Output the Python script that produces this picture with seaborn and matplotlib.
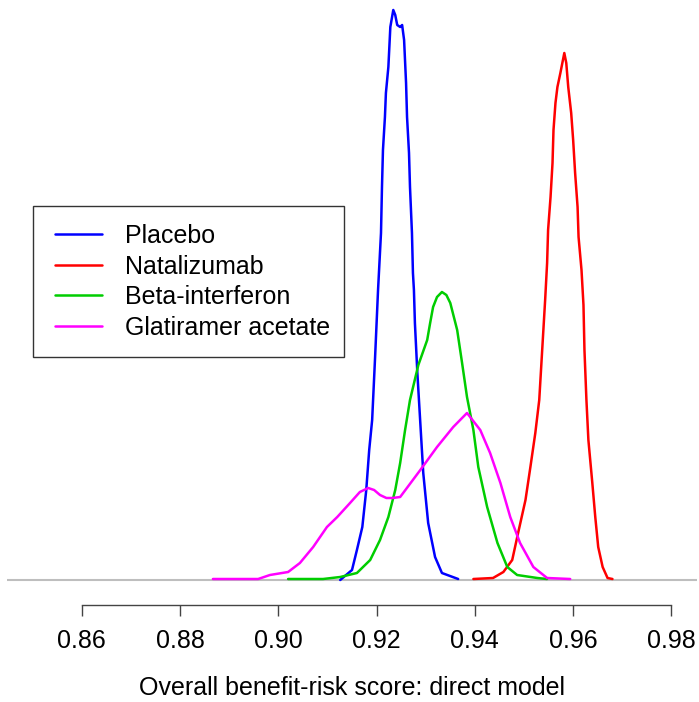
import numpy as np
import pandas as pd
import seaborn as sns
import matplotlib
matplotlib.use("Agg")
import matplotlib.pyplot as plt
from matplotlib.patches import Rectangle
from matplotlib.lines import Line2D

# ---- data (density in arbitrary units) ----
treatments = ["Placebo", "Natalizumab", "Beta-interferon", "Glatiramer acetate"]
colors = ["#0000FF", "#FF0000", "#00CD00", "#FF00FF"]

placebo_x = [0.9126, 0.9150, 0.9160, 0.9171, 0.9179, 0.9185, 0.9191, 0.9197, 0.9203,
             0.9209, 0.9211, 0.9213, 0.9217, 0.9219, 0.9224, 0.9226, 0.9228, 0.9234,
             0.9238, 0.9242, 0.9248, 0.9252, 0.9256, 0.9260, 0.9262, 0.9266, 0.9268,
             0.9272, 0.9274, 0.9276, 0.9278, 0.9283, 0.9289, 0.9295, 0.9305, 0.9319,
             0.9333, 0.9366]
placebo_y = [0.0, 2.5, 7.5, 13.25, 22.5, 32.5, 40.0, 55.75, 72.5,
             86.75, 98.25, 107.5, 115.75, 121.75, 128.25, 133.25, 138.25, 142.5,
             141.25, 138.75, 138.25, 138.75, 135.0, 124.25, 115.75, 106.75, 98.25,
             86.75, 76.75, 72.5, 64.25, 51.75, 39.25, 26.75, 14.25, 5.75,
             1.75, 0.25]

natalizumab_x = [0.9397, 0.9437, 0.9458, 0.9476, 0.9488, 0.9503, 0.9513, 0.9523, 0.9531,
                 0.9537, 0.9543, 0.9547, 0.9549, 0.9554, 0.9558, 0.9560, 0.9564, 0.9568,
                 0.9574, 0.9582, 0.9586, 0.9590, 0.9596, 0.9600, 0.9604, 0.9609, 0.9611,
                 0.9617, 0.9621, 0.9623, 0.9627, 0.9631, 0.9639, 0.9645, 0.9651, 0.9660,
                 0.9670, 0.9680]
natalizumab_y = [0.25, 0.5, 2.0, 5.0, 11.75, 20.0, 28.25, 36.75, 45.0,
                 57.5, 70.0, 79.25, 87.5, 95.75, 104.25, 112.5, 119.25, 123.25,
                 126.75, 131.75, 129.25, 123.25, 116.75, 110.0, 101.75, 93.25, 85.75,
                 77.5, 68.75, 57.5, 45.0, 35.0, 24.25, 15.75, 8.25, 3.25,
                 0.5, 0.25]

beta_x = [0.9020, 0.9091, 0.9126, 0.9160, 0.9187, 0.9207, 0.9224, 0.9238, 0.9248,
          0.9258, 0.9268, 0.9285, 0.9303, 0.9309, 0.9315, 0.9323, 0.9333, 0.9342,
          0.9350, 0.9364, 0.9374, 0.9384, 0.9397, 0.9407, 0.9425, 0.9446, 0.9466,
          0.9486, 0.9527, 0.9547]
beta_y = [0.25, 0.25, 0.75, 1.75, 5.0, 10.0, 15.75, 22.5, 29.25,
          37.5, 45.0, 53.75, 60.0, 64.25, 68.25, 70.75, 72.0, 71.25,
          69.25, 62.5, 54.25, 45.75, 37.5, 28.25, 18.25, 9.25, 3.25,
          1.25, 0.5, 0.25]

glatiramer_x = [0.8867, 0.8959, 0.8983, 0.9020, 0.9044, 0.9071, 0.9099, 0.9120, 0.9146,
                0.9166, 0.9183, 0.9195, 0.9207, 0.9220, 0.9232, 0.9248, 0.9289, 0.9323,
                0.9356, 0.9384, 0.9411, 0.9431, 0.9452, 0.9472, 0.9492, 0.9519, 0.9547,
                0.9594]
glatiramer_y = [0.25, 0.25, 1.25, 2.0, 4.25, 8.25, 13.25, 15.75, 19.25,
                22.0, 23.0, 22.5, 21.25, 20.5, 20.5, 20.75, 27.5, 33.25,
                38.25, 41.75, 37.5, 31.75, 24.25, 15.75, 9.25, 3.25, 0.5,
                0.25]

tick_values = [0.86, 0.88, 0.90, 0.92, 0.94, 0.96, 0.98]
tick_labels = ["0.86", "0.88", "0.90", "0.92", "0.94", "0.96", "0.98"]
x_label = "Overall benefit-risk score: direct model"

# ---- build long table ----
frames = []
for name, xs, ys in zip(treatments,
                        [placebo_x, natalizumab_x, beta_x, glatiramer_x],
                        [placebo_y, natalizumab_y, beta_y, glatiramer_y]):
    frames.append(pd.DataFrame({"score": xs, "density": ys, "treatment": name}))
df = pd.concat(frames, ignore_index=True)

# ---- style ----
sns.set_style("white")
plt.rcParams["font.family"] = ["Liberation Sans", "DejaVu Sans"]

W, H = 699, 702
fig = plt.figure(figsize=(W / 100, H / 100), dpi=100)
ax = fig.add_axes([7 / W, (H - 605) / H, 690 / W, 605 / H])

ax.axhline(0, color="#BEBEBE", lw=1.5, zorder=1)

sns.lineplot(data=df, x="score", y="density", hue="treatment",
             hue_order=treatments, palette=dict(zip(treatments, colors)),
             estimator=None, sort=True, lw=1.8, ax=ax, legend=False, zorder=3)

ax.set_xlim(0.8448, 0.9852)
ax.set_ylim(-6.25, 145)

for s in ["top", "right", "left"]:
    ax.spines[s].set_visible(False)
ax.spines["bottom"].set_bounds(0.86, 0.98)
ax.spines["bottom"].set_color("#444444")
ax.spines["bottom"].set_linewidth(1.0)

ax.set_xticks(tick_values)
ax.set_xticklabels(tick_labels, fontsize=18, color="black")
ax.tick_params(axis="x", direction="out", length=8, width=1.0, color="#444444",
               pad=9.5, bottom=True)
ax.set_yticks([])
ax.set_ylabel("")
ax.set_xlabel(x_label, fontsize=18, labelpad=16.5, color="black")

# ---- legend ----
ax.add_patch(Rectangle((33 / W, 1 - 357 / H), (344 - 33) / W, (357 - 206) / H,
                       transform=fig.transFigure, fill=True, facecolor="white",
                       edgecolor="#333333", lw=1.0, zorder=4, clip_on=False))
handles = [Line2D([], [], color=c, lw=1.8) for c in colors]
leg = ax.legend(handles, treatments, loc="upper left",
                bbox_to_anchor=(55 / W, 1 - 224 / H), bbox_transform=fig.transFigure,
                frameon=False, fontsize=18, handlelength=1.88, handletextpad=0.92,
                borderpad=0, borderaxespad=0, labelspacing=0.26)
leg.set_zorder(5)
for t in leg.get_texts():
    t.set_color("black")

fig.savefig("out.png", dpi=100)
